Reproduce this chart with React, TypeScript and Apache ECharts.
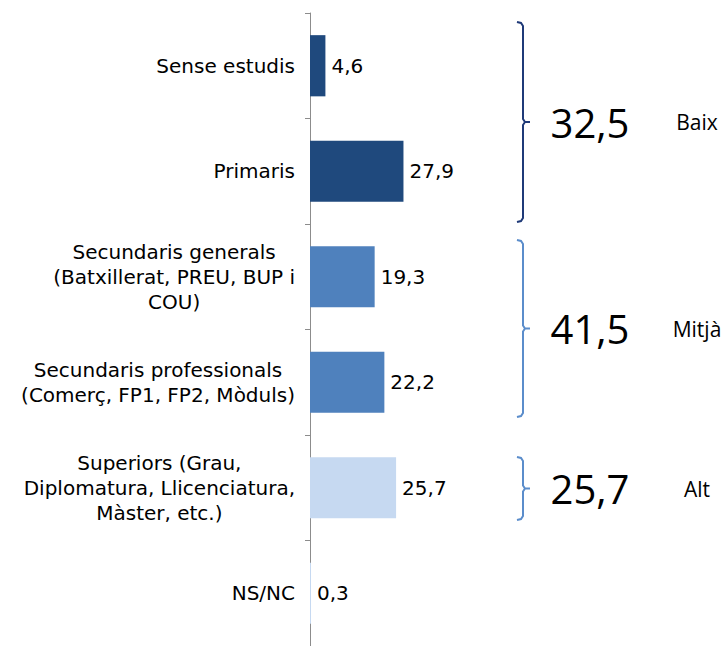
import React, { useEffect, useRef } from "react";
import * as echarts from "echarts";

const categories = [
  "Sense estudis",
  "Primaris",
  "Secundaris generals\n(Batxillerat, PREU, BUP i\nCOU)",
  "Secundaris professionals\n(Comerç, FP1, FP2, Mòduls)",
  "Superiors (Grau,\nDiplomatura, Llicenciatura,\nMàster, etc.)",
  "NS/NC",
];
const values = [4.6, 27.9, 19.3, 22.2, 25.7, 0.3];
const barColors = ["#1F497D", "#1F497D", "#4F81BD", "#4F81BD", "#C6D9F1", "#C6D9F1"];

const groupLabels = ["Baix", "Mitjà", "Alt"];
const groupValues = [32.5, 41.5, 25.7];
const groupColors = ["#1F3A78", "#5B8DCB", "#5B8DCB"];

// layout (pixels) for the brace annotations
const braceX = 523;
const braceSpans = [
  [22, 222],
  [240, 417],
  [457, 520],
];

const LABEL_FONT = "Verdana, 'DejaVu Sans', sans-serif";
const LABEL_SIZE = 20;

const fmt = (v: number) => String(v).replace(".", ",");

function bracePoints(top: number, bottom: number) {
  const mid = (top + bottom) / 2;
  const x = braceX;
  return [
    [x - 6, top],
    [x - 2, top + 1],
    [x, top + 4],
    [x, mid - 3],
    [x + 2, mid],
    [x + 7, mid],
    [x + 2, mid],
    [x, mid + 3],
    [x, bottom - 4],
    [x - 2, bottom - 1],
    [x - 6, bottom],
  ];
}

export default function App() {
  const ref = useRef<HTMLDivElement>(null);
  useEffect(() => {
    if (!ref.current) return;
    const chart = echarts.init(ref.current, undefined, { renderer: "svg" });
    const graphic: any[] = [];
    braceSpans.forEach(([t, b], i) => {
      const mid = (t + b) / 2;
      graphic.push({
        type: "polyline",
        shape: { points: bracePoints(t, b) },
        style: { stroke: groupColors[i], lineWidth: 2, fill: "none" },
      });
      graphic.push({
        type: "text",
        x: 590,
        y: mid,
        style: {
          text: fmt(groupValues[i]),
          fontSize: 40,
          fontFamily: "Open Sans",
          fill: "#000",
          align: "center",
          verticalAlign: "middle",
        },
      });
      graphic.push({
        type: "text",
        x: 697,
        y: mid,
        style: {
          text: groupLabels[i],
          fontSize: 21,
          fontFamily: "Open Sans",
          fill: "#000",
          align: "center",
          verticalAlign: "middle",
        },
      });
    });
    chart.setOption({
      animation: false,
      textStyle: { fontFamily: LABEL_FONT },
      grid: { left: 310, top: 13, width: 201, height: 636, containLabel: false },
      xAxis: {
        type: "value",
        min: 0,
        max: 60,
        show: false,
      },
      yAxis: {
        type: "category",
        inverse: true,
        data: categories,
        axisLine: { show: true, lineStyle: { color: "#8C8C8C", width: 1 } },
        axisTick: { show: true, length: 5, inside: false, lineStyle: { color: "#8C8C8C" } },
        axisLabel: {
          margin: 15,
          fontFamily: LABEL_FONT,
          fontSize: LABEL_SIZE,
          formatter: (v: string) =>
            v
              .split("\n")
              .map((l) => `{c|${l}}`)
              .join("\n"),
          rich: {
            c: {
              align: "center",
              fontSize: LABEL_SIZE,
              fontFamily: LABEL_FONT,
              lineHeight: 25,
              color: "#000",
            },
          },
        },
        splitLine: { show: false },
      },
      series: [
        {
          type: "bar",
          data: values.map((v, i) => ({ value: v, itemStyle: { color: barColors[i] } })),
          barWidth: "58%",
          label: {
            show: true,
            position: "right",
            distance: 6,
            formatter: (p: any) => fmt(p.value),
            fontSize: LABEL_SIZE,
            fontFamily: LABEL_FONT,
            color: "#000",
          },
        },
      ],
      graphic,
    });
    return () => chart.dispose();
  }, []);
  return (
    <div
      ref={ref}
      style={{ position: "fixed", left: 0, top: 0, width: 727, height: 646, background: "#fff" }}
    />
  );
}
